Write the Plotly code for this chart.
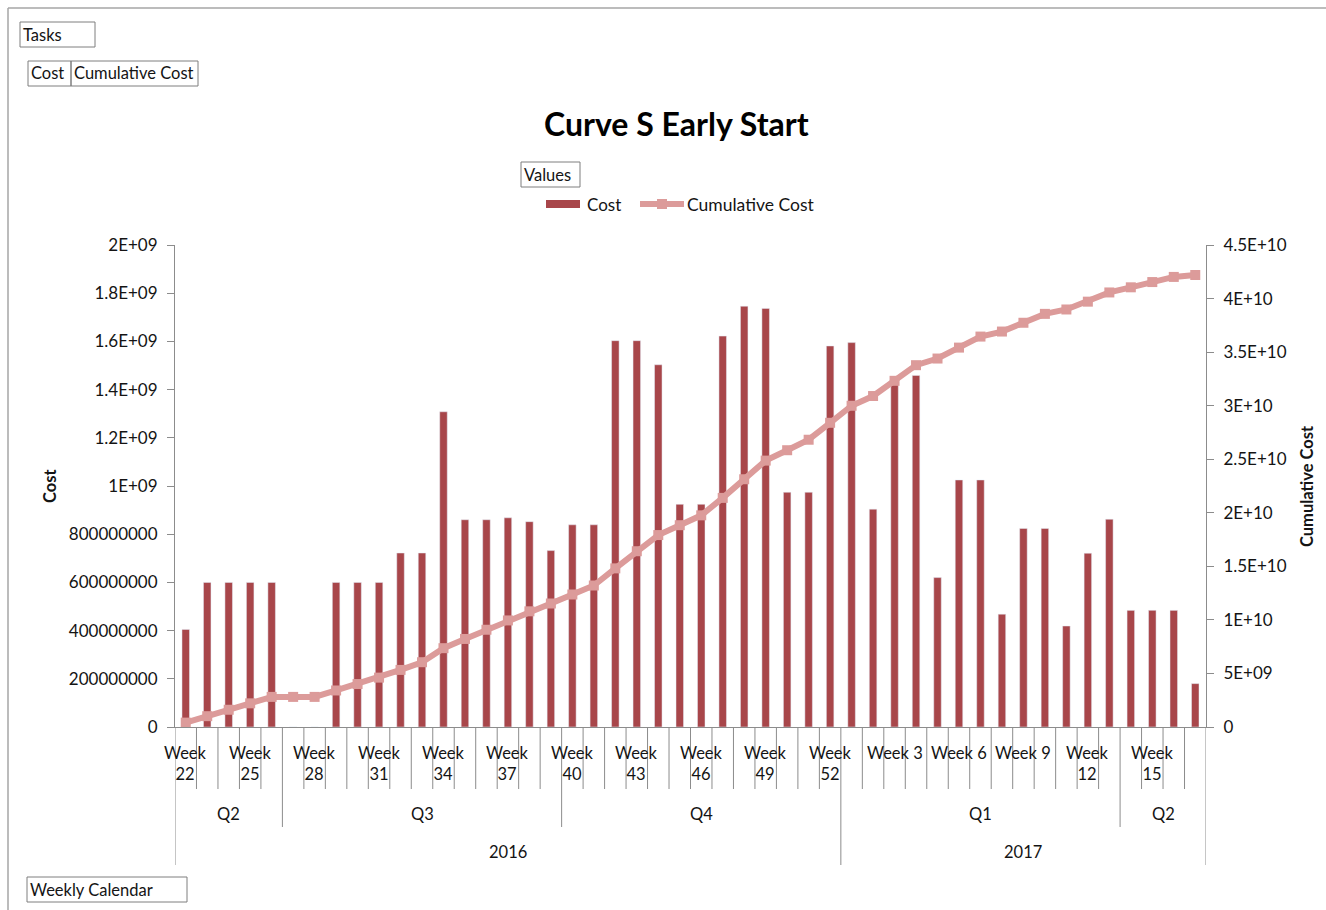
import plotly.graph_objects as go

# ---------------- data ----------------
years = [2016] * 31 + [2017] * 17
quarters = ["Q2"] * 5 + ["Q3"] * 13 + ["Q4"] * 13 + ["Q1"] * 13 + ["Q2"] * 4
weeks = list(range(22, 53)) + list(range(1, 18))

cost = [
    405e6, 600e6, 600e6, 600e6, 600e6, 0, 0, 600e6, 600e6, 600e6,
    722e6, 722e6, 1308e6, 860e6, 860e6, 868e6, 852e6, 732e6, 839e6, 839e6,
    1603e6, 1603e6, 1503e6, 924e6, 924e6, 1622e6, 1746e6, 1737e6, 974e6, 974e6,
    1581e6, 1595e6, 904e6, 1423e6, 1459e6, 620e6, 1025e6, 1025e6, 468e6, 824e6,
    824e6, 419e6, 721e6, 862e6, 484e6, 484e6, 484e6, 180e6,
]
cumulative_cost = [
    0.41e9, 1.01e9, 1.61e9, 2.21e9, 2.81e9, 2.81e9, 2.81e9, 3.41e9, 4.01e9, 4.61e9,
    5.33e9, 6.05e9, 7.36e9, 8.22e9, 9.08e9, 9.95e9, 10.80e9, 11.53e9, 12.37e9, 13.21e9,
    14.81e9, 16.41e9, 17.92e9, 18.84e9, 19.76e9, 21.39e9, 23.13e9, 24.87e9, 25.84e9, 26.82e9,
    28.40e9, 29.99e9, 30.90e9, 32.32e9, 33.78e9, 34.40e9, 35.42e9, 36.45e9, 36.92e9, 37.74e9,
    38.57e9, 38.98e9, 39.71e9, 40.57e9, 41.05e9, 41.54e9, 42.02e9, 42.20e9,
]

cost_ticks = [0, 2e8, 4e8, 6e8, 8e8, 1e9, 1.2e9, 1.4e9, 1.6e9, 1.8e9, 2e9]
cost_tick_labels = ["0", "200000000", "400000000", "600000000", "800000000",
                    "1E+09", "1.2E+09", "1.4E+09", "1.6E+09", "1.8E+09", "2E+09"]
cum_ticks = [0, 5e9, 1e10, 1.5e10, 2e10, 2.5e10, 3e10, 3.5e10, 4e10, 4.5e10]
cum_tick_labels = ["0", "5E+09", "1E+10", "1.5E+10", "2E+10", "2.5E+10",
                   "3E+10", "3.5E+10", "4E+10", "4.5E+10"]

title_text = "Curve S Early Start"

# ---------------- style / geometry ----------------
W, H = 1326, 910
L, R, T, B = 175, 1206, 245, 727
FONT = "Lato"
TXT = "#141414"
AXC = "#8c8c8c"
BAR_C = "#A8464A"
LINE_C = "#DC9B9A"


def px(x):
    return (x - L) / (R - L)


def py(y):
    return (B - y) / (B - T)


n = len(weeks)
xs = list(range(n))

fig = go.Figure()
fig.add_trace(go.Bar(
    x=xs, y=cost, name="Cost", marker_color=BAR_C, width=0.35,
    customdata=[f"{y} {q} Week {w}" for y, q, w in zip(years, quarters, weeks)],
    hovertemplate="%{customdata}<br>Cost: %{y}<extra></extra>",
    showlegend=False,
))
fig.add_trace(go.Scatter(
    x=xs, y=cumulative_cost, name="Cumulative Cost", yaxis="y2",
    mode="lines+markers",
    line=dict(color=LINE_C, width=6),
    marker=dict(symbol="square", size=10, color=LINE_C),
    customdata=[f"{y} {q} Week {w}" for y, q, w in zip(years, quarters, weeks)],
    hovertemplate="%{customdata}<br>Cumulative Cost: %{y}<extra></extra>",
    showlegend=False,
))

shapes = []
annotations = []

# outer chart border (top / left)
shapes.append(dict(type="line", xref="paper", yref="paper", x0=px(8), x1=px(1326),
                   y0=py(8), y1=py(8), line=dict(color="#a6a6a6", width=1.5)))
shapes.append(dict(type="line", xref="paper", yref="paper", x0=px(8), x1=px(8),
                   y0=py(8), y1=py(910), line=dict(color="#a6a6a6", width=1.5)))

# category boundaries of the multi-level axis
for i in range(n + 1):
    if i == 0 or i == n or years[i] != years[i - 1]:
        bottom = 865
    elif quarters[i] != quarters[i - 1]:
        bottom = 827
    else:
        bottom = 789
    shapes.append(dict(type="line", xref="x", yref="paper", x0=i - 0.5, x1=i - 0.5,
                       y0=py(B), y1=py(bottom), line=dict(color=AXC, width=1)))

# week labels (every third category)
for i in range(0, n, 3):
    w = weeks[i]
    txt = f"Week<br>{w}" if w >= 10 else f"Week {w}"
    annotations.append(dict(x=i, y=py(741), xref="x", yref="paper", text=txt,
                            showarrow=False, xanchor="center", yanchor="top",
                            font=dict(family=FONT, size=16.5, color=TXT)))

# quarter labels
start = 0
for i in range(1, n + 1):
    if i == n or quarters[i] != quarters[start] or years[i] != years[start]:
        annotations.append(dict(x=(start + i - 1) / 2, y=py(814), xref="x", yref="paper",
                                text=quarters[start], showarrow=False,
                                xanchor="center", yanchor="middle",
                                font=dict(family=FONT, size=16.5, color=TXT)))
        start = i

# year labels
start = 0
for i in range(1, n + 1):
    if i == n or years[i] != years[start]:
        annotations.append(dict(x=(start + i - 1) / 2, y=py(852), xref="x", yref="paper",
                                text=str(years[start]), showarrow=False,
                                xanchor="center", yanchor="middle",
                                font=dict(family=FONT, size=16.5, color=TXT)))
        start = i

# axis titles
annotations.append(dict(x=px(50), y=py(486), xref="paper", yref="paper", text="<b>Cost</b>",
                        showarrow=False, textangle=-90, xanchor="center", yanchor="middle",
                        font=dict(family=FONT, size=16.5, color=TXT)))
annotations.append(dict(x=px(1307), y=py(486), xref="paper", yref="paper",
                        text="<b>Cumulative Cost</b>", showarrow=False, textangle=-90,
                        xanchor="center", yanchor="middle",
                        font=dict(family=FONT, size=16.5, color=TXT)))

# title
annotations.append(dict(x=px(676), y=py(123), xref="paper", yref="paper",
                        text=f"<b>{title_text}</b>", showarrow=False,
                        xanchor="center", yanchor="middle",
                        font=dict(family=FONT, size=32, color="#000000")))

# custom legend
shapes.append(dict(type="rect", xref="paper", yref="paper", x0=px(546), x1=px(580),
                   y0=py(200), y1=py(208), fillcolor=BAR_C, line=dict(width=0)))
annotations.append(dict(x=px(585), y=py(204), xref="paper", yref="paper", text="Cost",
                        showarrow=False, xanchor="left", yanchor="middle",
                        font=dict(family=FONT, size=17, color=TXT)))
shapes.append(dict(type="line", xref="paper", yref="paper", x0=px(640), x1=px(684),
                   y0=py(204), y1=py(204), line=dict(color=LINE_C, width=6)))
shapes.append(dict(type="rect", xref="paper", yref="paper", x0=px(657), x1=px(667),
                   y0=py(199), y1=py(209), fillcolor=LINE_C, line=dict(width=0)))
annotations.append(dict(x=px(685), y=py(204), xref="paper", yref="paper",
                        text="Cumulative Cost", showarrow=False, xanchor="left",
                        yanchor="middle", font=dict(family=FONT, size=17.5, color=TXT)))

# pivot field buttons
buttons = [
    ("Tasks", 20, 95, 22, 47),
    ("Cost", 28, 71, 61, 86),
    ("Cumulative Cost", 71, 198, 61, 86),
    ("Values", 521, 580, 162, 187),
    ("Weekly Calendar", 27, 187, 877, 902),
]
for label, x0, x1, y0, y1 in buttons:
    shapes.append(dict(type="rect", xref="paper", yref="paper", x0=px(x0), x1=px(x1),
                       y0=py(y0), y1=py(y1), line=dict(color="#7f7f7f", width=1),
                       fillcolor="rgba(0,0,0,0)"))
    annotations.append(dict(x=px(x0 + 1), y=py((y0 + y1) / 2), xref="paper", yref="paper",
                            text=label, showarrow=False, xanchor="left", yanchor="middle",
                            font=dict(family=FONT, size=16.5, color=TXT)))

fig.update_layout(
    width=W, height=H,
    margin=dict(l=L, r=W - R, t=T, b=H - B, pad=0),
    paper_bgcolor="white", plot_bgcolor="white",
    showlegend=False,
    font=dict(family=FONT, size=16, color=TXT),
    xaxis=dict(range=[-0.5, n - 0.5], showticklabels=False, ticks="",
               showgrid=False, zeroline=False, showline=True, linecolor=AXC,
               linewidth=1, fixedrange=True),
    yaxis=dict(range=[0, 2e9], tickvals=cost_ticks, ticktext=cost_tick_labels,
               ticks="outside", ticklen=7, tickcolor=AXC, showline=True,
               linecolor=AXC, linewidth=1, showgrid=False, zeroline=False,
               ticklabelstandoff=6, tickfont=dict(family=FONT, size=17, color=TXT)),
    yaxis2=dict(range=[0, 4.5e10], tickvals=cum_ticks, ticktext=cum_tick_labels,
                overlaying="y", side="right", anchor="x",
                ticks="outside", ticklen=7, tickcolor=AXC, showline=True,
                linecolor=AXC, linewidth=1, showgrid=False, zeroline=False,
                ticklabelstandoff=6, tickfont=dict(family=FONT, size=17, color=TXT)),
    shapes=shapes,
    annotations=annotations,
    bargap=0.6,
)

fig.write_html("out.html", config={"displayModeBar": False},
               post_script="document.body.style.margin='0';document.body.style.overflow='hidden';")
